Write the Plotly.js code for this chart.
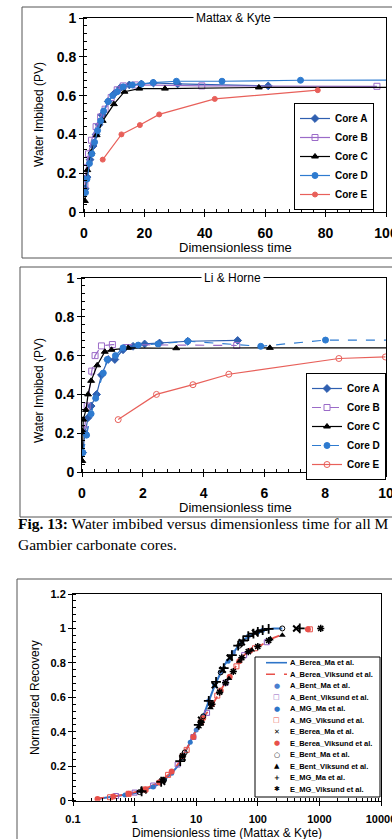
<!DOCTYPE html>
<html>
<head>
<meta charset="utf-8">
<script src="https://cdn.plot.ly/plotly-3.0.1.min.js"></script>
<style>html,body{margin:0;padding:0;background:#fff;}#chart{width:392px;height:839px;}</style>
</head>
<body>
<div id="chart"></div>
<script>
// ---------- Chart 1: Mattax & Kyte ----------
const mkA_x = [0.4,1,2,3,4,5,6,8,10,12,15,19,23,31,61];
const mkA_y = [0.12,0.18,0.27,0.34,0.40,0.45,0.50,0.57,0.61,0.64,0.655,0.66,0.665,0.66,0.65];
const mkB_x = [0.3,0.8,1.5,2.5,4,5.5,7,9,11,13,17,39,97];
const mkB_y = [0.14,0.23,0.30,0.37,0.44,0.49,0.53,0.59,0.63,0.65,0.655,0.65,0.648];
const mkC_x = [0.3,1.1,2.5,4.2,6.2,9.9,13.4,18.3,26.8,57.9,110];
const mkC_y = [0.057,0.216,0.31,0.396,0.47,0.556,0.62,0.636,0.636,0.642,0.642];
const mkD_x = [0.5,1,1.8,2.6,3.5,4.5,5.5,6.5,8,9.5,11,13,16,19,22.9,30.6,45.7,71.7,110];
const mkD_y = [0.10,0.17,0.25,0.30,0.36,0.42,0.47,0.52,0.57,0.60,0.62,0.645,0.655,0.66,0.667,0.674,0.674,0.679,0.68];
const mkE_x = [6.2,12.4,18.5,24.9,43.3,77.4];
const mkE_y = [0.27,0.40,0.448,0.503,0.583,0.628];

// ---------- Chart 2: Li & Horne ----------
const lhA_x = [0.02,0.1,0.2,0.3,0.48,0.64,0.86,1.08,1.35,1.68,2.06,2.55,3.48,5.12];
const lhA_y = [0.10,0.20,0.28,0.34,0.40,0.50,0.58,0.58,0.63,0.648,0.66,0.665,0.674,0.678];
const lhB_x = [0.08,0.17,0.32,0.43,0.64,1.0,5.09];
const lhB_y = [0.22,0.34,0.52,0.60,0.65,0.657,0.652];
const lhC_x = [0.01,0.02,0.04,0.13,0.2,0.3,0.5,0.75,0.97,1.52,3.1,6.18,10.5];
const lhC_y = [0.057,0.21,0.27,0.32,0.40,0.47,0.55,0.62,0.63,0.64,0.638,0.64,0.64];
const lhD_x = [0.03,0.15,0.3,0.45,0.7,0.83,1.1,1.35,1.85,2.5,3.48,5.88,8.01,10.5];
const lhD_y = [0.10,0.19,0.30,0.38,0.51,0.58,0.60,0.64,0.654,0.66,0.674,0.648,0.68,0.68];
const lhE_x = [1.19,2.45,3.65,4.83,8.45,9.98];
const lhE_y = [0.27,0.40,0.45,0.504,0.585,0.593];

const coreNames = ["Core A","Core B","Core C","Core D","Core E"];

// ---------- Chart 3: Normalized recovery ----------
const nr_t = [0.23,0.4,0.6,0.9,1.2,1.6,2.3,3,3.8,5,6.2,7.5,9,11,13,15,17,20,24,29,35,42,51,62,75,90,110,140,180,250];
const aBereaMa_y = [0.008,0.02,0.028,0.04,0.05,0.068,0.09,0.12,0.15,0.2,0.26,0.32,0.38,0.44,0.49,0.55,0.6,0.67,0.73,0.79,0.83,0.87,0.91,0.94,0.96,0.975,0.988,0.996,1.0,1.0];
const aBereaVik_y = [0.01,0.022,0.032,0.045,0.056,0.075,0.1,0.13,0.16,0.21,0.27,0.32,0.38,0.43,0.48,0.51,0.54,0.58,0.63,0.68,0.72,0.77,0.82,0.85,0.87,0.885,0.9,0.92,0.945,0.965];
const aBentMa_t = [1.5,3,6,10,16,25,40,70,120];
const aBentMa_y = [0.062,0.12,0.25,0.41,0.58,0.745,0.86,0.955,0.99];
const aBentVik_t = [0.5,1,2,5,9,15,30,60,140];
const aBentVik_y = [0.027,0.047,0.088,0.21,0.37,0.51,0.685,0.845,0.92];
const aMGMa_t = [0.7,2,4,8,13,20,33,55,100];
const aMGMa_y = [0.033,0.08,0.16,0.34,0.49,0.67,0.81,0.92,0.98];
const aMGVik_t = [0.4,0.8,1.5,3.5,7,12,22,45,90,700];
const aMGVik_y = [0.02,0.04,0.065,0.15,0.295,0.455,0.61,0.78,0.885,0.995];
const eBereaMa_t = [1.4,2.8,6,12,20,27,35,55,90,420];
const eBereaMa_y = [0.06,0.11,0.25,0.47,0.67,0.76,0.83,0.92,0.975,1.0];
const eBereaVik_t = [0.25,0.45,0.8,1.5,2.5,4,6,9,13,18,25,35,50,75,650];
const eBereaVik_y = [0.01,0.024,0.04,0.065,0.105,0.17,0.26,0.37,0.48,0.56,0.64,0.72,0.81,0.87,0.995];
const eBentMa_t = [1.2,3,6.5,13,25,50,250];
const eBentMa_y = [0.05,0.12,0.28,0.49,0.745,0.9,1.0];
const eBentVik_t = [1.3,2.9,6,11,17,24,34,50,80,160,250];
const eBentVik_y = [0.058,0.125,0.26,0.43,0.54,0.63,0.71,0.81,0.875,0.94,0.96];
const eMGMa_t = [1.3,2.7,5.5,11,16,21,28,38,48,58,70,85,100,120,150,480];
const eMGMa_y = [0.055,0.11,0.23,0.44,0.58,0.69,0.77,0.845,0.9,0.93,0.955,0.97,0.98,0.99,0.997,1.0];
const eMGVik_t = [6,12,18,24,30,40,55,70,100,150,1050];
const eMGVik_y = [0.26,0.455,0.56,0.63,0.685,0.75,0.83,0.865,0.895,0.93,1.0];

const nrNames = ["A_Berea_Ma et al.","A_Berea_Viksund et al.","A_Bent_Ma et al.","A_Bent_Viksund et al.",
  "A_MG_Ma et al.","A_MG_Viksund et al.","E_Berea_Ma et al.","E_Berea_Viksund et al.",
  "E_Bent_Ma et al.","E_Bent_Viksund et al.","E_MG_Ma et al.","E_MG_Viksund et al."];
const decadeTicks = [0.1,1,10,100,1000,10000];
const decadeLabels = ["0.1","1","10","100","1000","10000"];

// ---------- styles ----------
const W = 392, H = 839;
const px = v => v / W;
const py = v => 1 - v / H;
const BLUE_A = '#2F5FB0', PURPLE = '#9B6BC8', BLUE_D = '#2E7BD0', RED = '#E8605A';
const BLUE3 = '#2E75C8', RED3 = '#E8504A', PURPLE3 = '#8E5CC0';

const coreStyles1 = [
  {color: BLUE_A, symbol: 'diamond', size: 6, dash: 'solid'},
  {color: PURPLE, symbol: 'square-open', size: 6, dash: 'solid'},
  {color: '#000', symbol: 'triangle-up', size: 6, dash: 'solid'},
  {color: BLUE_D, symbol: 'circle', size: 6, dash: 'solid'},
  {color: RED, symbol: 'circle', size: 5, dash: 'solid'}
];
const coreStyles2 = [
  {color: BLUE_A, symbol: 'diamond', size: 6, dash: 'solid'},
  {color: PURPLE, symbol: 'square-open', size: 6, dash: 'dash'},
  {color: '#000', symbol: 'triangle-up', size: 6, dash: 'solid'},
  {color: BLUE_D, symbol: 'circle', size: 6, dash: 'dash'},
  {color: RED, symbol: 'circle-open', size: 6, dash: 'solid'}
];

function coreTrace(x, y, i, styles, xa, ya, leg) {
  const s = styles[i];
  return {x, y, type: 'scatter', mode: 'lines+markers', name: coreNames[i],
    xaxis: xa, yaxis: ya, legend: leg,
    line: {color: s.color, width: 1.2, dash: s.dash},
    marker: {color: s.color, symbol: s.symbol, size: s.size, line: {color: s.color, width: 1}}};
}

const traces = [];
const set1 = [[mkA_x,mkA_y],[mkB_x,mkB_y],[mkC_x,mkC_y],[mkD_x,mkD_y],[mkE_x,mkE_y]];
set1.forEach((d,i)=>traces.push(coreTrace(d[0], d[1], i, coreStyles1, 'x', 'y', 'legend')));
const set2 = [[lhA_x,lhA_y],[lhB_x,lhB_y],[lhC_x,lhC_y],[lhD_x,lhD_y],[lhE_x,lhE_y]];
set2.forEach((d,i)=>traces.push(coreTrace(d[0], d[1], i, coreStyles2, 'x2', 'y2', 'legend2')));

// chart 3 series
const nrSeries = [
  {t: nr_t, y: aBereaMa_y, mode: 'lines', line: {color: BLUE3, width: 2}},
  {t: nr_t, y: aBereaVik_y, mode: 'lines', line: {color: RED3, width: 1.8, dash: 'dash'}},
  {t: aBentMa_t, y: aBentMa_y, mode: 'markers', marker: {symbol: 'circle', color: '#4A7FCF', size: 5}},
  {t: aBentVik_t, y: aBentVik_y, mode: 'markers', marker: {symbol: 'square-open', color: PURPLE3, size: 5}},
  {t: aMGMa_t, y: aMGMa_y, mode: 'markers', marker: {symbol: 'circle', color: BLUE3, size: 5}},
  {t: aMGVik_t, y: aMGVik_y, mode: 'markers', marker: {symbol: 'square-open', color: RED3, size: 5}},
  {t: eBereaMa_t, y: eBereaMa_y, mode: 'markers', marker: {symbol: 'x-thin-open', color: '#000', size: 6, line: {width: 2, color: '#000'}}},
  {t: eBereaVik_t, y: eBereaVik_y, mode: 'markers', marker: {symbol: 'circle', color: RED3, size: 6}},
  {t: eBentMa_t, y: eBentMa_y, mode: 'markers', marker: {symbol: 'circle-open', color: '#000', size: 5}},
  {t: eBentVik_t, y: eBentVik_y, mode: 'markers', marker: {symbol: 'triangle-up', color: '#000', size: 6}},
  {t: eMGMa_t, y: eMGMa_y, mode: 'markers', marker: {symbol: 'cross-thin-open', color: '#000', size: 7, line: {width: 1.8, color: '#000'}}},
  {t: eMGVik_t, y: eMGVik_y, mode: 'markers', marker: {symbol: 'asterisk-open', color: '#000', size: 6, line: {width: 1.5, color: '#000'}}}
];
nrSeries.forEach((s,i)=>{
  const tr = {x: s.t, y: s.y, type: 'scatter', mode: s.mode, name: nrNames[i],
    xaxis: 'x3', yaxis: 'y3', showlegend: false};
  if (s.line) tr.line = s.line;
  if (s.marker) tr.marker = s.marker;
  traces.push(tr);
});

// ---------- axes ----------
const tickF = {family: 'Liberation Sans, Arial, sans-serif', size: 14, color: '#000', weight: 700};
const tickF3 = {family: 'Liberation Sans, Arial, sans-serif', size: 11, color: '#000', weight: 700};
function linAxis(extra) {
  return Object.assign({showline: true, mirror: true, linecolor: '#000', linewidth: 1,
    showgrid: false, zeroline: false, ticks: 'outside', ticklen: 4, tickcolor: '#000',
    tickfont: tickF, ticklabeloverflow: 'allow', fixedrange: true}, extra);
}

const layout = {
  width: W, height: H, margin: {l: 0, r: 0, t: 0, b: 0},
  paper_bgcolor: '#fff', plot_bgcolor: '#fff',
  font: {family: 'Liberation Sans, Arial, sans-serif', color: '#000'},
  xaxis: linAxis({domain: [px(84), px(386)], range: [0, 100], dtick: 20, anchor: 'y',
    ticklabelstandoff: 4, minor: {ticks: 'inside', dtick: 4, ticklen: 3, tickcolor: '#000'}}),
  yaxis: linAxis({domain: [py(212), py(18)], range: [0, 1], dtick: 0.2, anchor: 'x',
    minor: {ticks: 'inside', dtick: 0.04, ticklen: 3, tickcolor: '#000'}}),
  xaxis2: linAxis({domain: [px(82), px(386)], range: [0, 10], dtick: 2, anchor: 'y2',
    ticklabelstandoff: 4, minor: {ticks: 'inside', dtick: 0.4, ticklen: 3, tickcolor: '#000'}}),
  yaxis2: linAxis({domain: [py(472), py(278)], range: [0, 1], dtick: 0.2, anchor: 'x2',
    minor: {ticks: 'inside', dtick: 0.04, ticklen: 3, tickcolor: '#000'}}),
  xaxis3: linAxis({type: 'log', domain: [px(73), px(381)], range: [-1, 4], anchor: 'y3',
    tickvals: decadeTicks, ticktext: decadeLabels, tickfont: tickF3, ticklabelstandoff: 4,
    minor: {ticks: 'inside', ticklen: 3, tickcolor: '#000', dtick: 'D1'}}),
  yaxis3: linAxis({domain: [py(800.7), py(594)], range: [0, 1.2], dtick: 0.2, anchor: 'x3',
    tickfont: tickF3, minor: {ticks: 'inside', dtick: 0.04, ticklen: 3, tickcolor: '#000'}}),
  legend: {x: px(294), y: py(103), xanchor: 'left', yanchor: 'top', bgcolor: '#fff',
    bordercolor: '#000', borderwidth: 1, font: {size: 10, weight: 700}, itemwidth: 30, tracegroupgap: 0},
  legend2: {x: px(306), y: py(373), xanchor: 'left', yanchor: 'top', bgcolor: '#fff',
    bordercolor: '#000', borderwidth: 1, font: {size: 10, weight: 700}, itemwidth: 30, tracegroupgap: 0},
  shapes: [],
  annotations: []
};

// outer frames
[[22,7,258],[20,267,517],[17,579,860]].forEach(f=>{
  layout.shapes.push({type: 'rect', xref: 'paper', yref: 'paper', x0: px(f[0]), x1: px(400),
    y0: py(f[2]), y1: py(f[1]), line: {color: '#555', width: 1}, layer: 'below'});
});

const ann = layout.annotations;
const tf = (s, w) => ({family: 'Liberation Sans, Arial, sans-serif', size: s, color: '#000', weight: w || 400});
// chart titles on top border
ann.push({text: 'Mattax &amp; Kyte', xref: 'paper', yref: 'paper', x: px(233), y: py(18),
  xanchor: 'center', yanchor: 'middle', showarrow: false, bgcolor: '#fff', borderpad: 2, font: tf(12)});
ann.push({text: 'Li &amp; Horne', xref: 'paper', yref: 'paper', x: px(232.5), y: py(278),
  xanchor: 'center', yanchor: 'middle', showarrow: false, bgcolor: '#fff', borderpad: 2, font: tf(12)});
// axis titles
ann.push({text: 'Dimensionless time', xref: 'paper', yref: 'paper', x: px(235.5), y: py(247),
  xanchor: 'center', yanchor: 'middle', showarrow: false, font: tf(13)});
ann.push({text: 'Water Imbibed (PV)', xref: 'paper', yref: 'paper', x: px(39), y: py(115),
  xanchor: 'center', yanchor: 'middle', showarrow: false, textangle: -90, font: tf(12)});
ann.push({text: 'Dimensionless time', xref: 'paper', yref: 'paper', x: px(235.5), y: py(507),
  xanchor: 'center', yanchor: 'middle', showarrow: false, font: tf(13)});
ann.push({text: 'Water Imbibed (PV)', xref: 'paper', yref: 'paper', x: px(39), y: py(391),
  xanchor: 'center', yanchor: 'middle', showarrow: false, textangle: -90, font: tf(12)});
ann.push({text: 'Dimensionless time (Mattax &amp; Kyte)', xref: 'paper', yref: 'paper', x: px(227), y: py(833),
  xanchor: 'center', yanchor: 'middle', showarrow: false, font: tf(12)});
ann.push({text: 'Normalized Recovery', xref: 'paper', yref: 'paper', x: px(35), y: py(698),
  xanchor: 'center', yanchor: 'middle', showarrow: false, textangle: -90, font: tf(12)});
// caption
const serif = {family: 'Liberation Serif, Times New Roman, serif', size: 15.5, color: '#000'};
ann.push({text: '<b>Fig. 13:</b> Water imbibed versus dimensionless time for all M', xref: 'paper', yref: 'paper',
  x: px(16), y: py(523), xanchor: 'left', yanchor: 'middle', showarrow: false, font: serif});
ann.push({text: 'Gambier carbonate cores.', xref: 'paper', yref: 'paper',
  x: px(16), y: py(544), xanchor: 'left', yanchor: 'middle', showarrow: false, font: serif});

// manual legend for chart 3
layout.shapes.push({type: 'rect', xref: 'paper', yref: 'paper', x0: px(255), x1: px(380),
  y0: py(797), y1: py(657), line: {color: '#000', width: 1}, fillcolor: '#fff', layer: 'above'});
const legGlyphs = [null, null, '●', '□', '●', '□', '✕', '●', '○', '▲', '+', '✱'];
const legColors = [BLUE3, RED3, '#4A7FCF', PURPLE3, BLUE3, RED3, '#000', RED3, '#000', '#000', '#000', '#000'];
nrNames.forEach((n,i)=>{
  const yy = 662.7 + 11.5 * i;
  if (i < 2) {
    layout.shapes.push({type: 'line', xref: 'paper', yref: 'paper', x0: px(266), x1: px(287),
      y0: py(yy), y1: py(yy), line: {color: legColors[i], width: 1.6, dash: i === 1 ? 'dash' : 'solid'}, layer: 'above'});
  } else {
    ann.push({text: legGlyphs[i], xref: 'paper', yref: 'paper', x: px(276.5), y: py(yy),
      xanchor: 'center', yanchor: 'middle', showarrow: false,
      font: {family: 'DejaVu Sans, sans-serif', size: 7, color: legColors[i], weight: 700}});
  }
  ann.push({text: n, xref: 'paper', yref: 'paper', x: px(288), y: py(yy),
    xanchor: 'left', yanchor: 'middle', showarrow: false, font: tf(7.5, 700)});
});

Plotly.newPlot('chart', traces, layout, {staticPlot: true, displayModeBar: false});
</script>
</body>
</html>
